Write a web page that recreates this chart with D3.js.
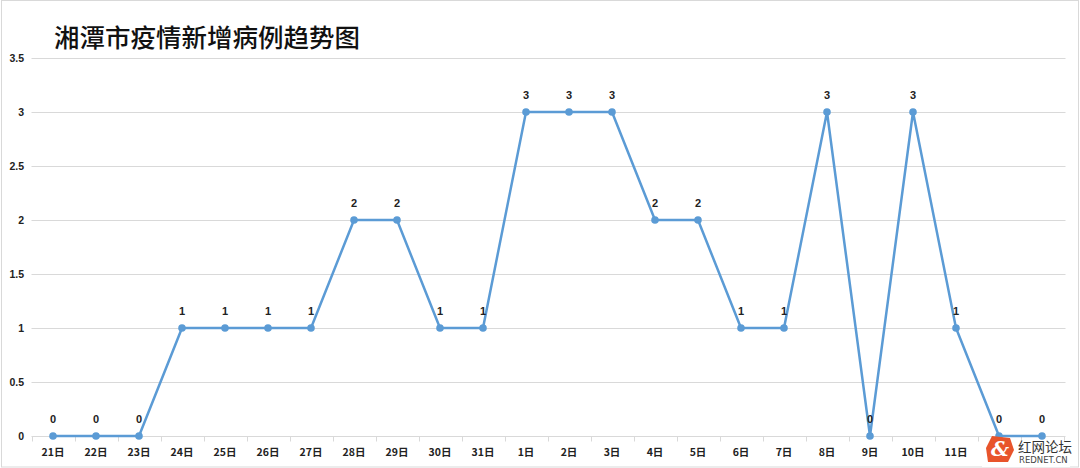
<!DOCTYPE html>
<html>
<head>
<meta charset="utf-8">
<script src="https://cdn.jsdelivr.net/npm/d3@7"></script>
<style>
  html, body { margin: 0; padding: 0; background: #fff; }
  svg { display: block; }
</style>
</head>
<body>
<div id="chart"></div>
<script>
const days = ["21日","22日","23日","24日","25日","26日","27日","28日","29日","30日","31日",
              "1日","2日","3日","4日","5日","6日","7日","8日","9日","10日","11日","12日","13日"];
const cases = [0,0,0,1,1,1,1,2,2,1,1,3,3,3,2,2,1,1,3,0,3,1,0,0];
const yTicks = [0, 0.5, 1, 1.5, 2, 2.5, 3, 3.5];

const width = 1080, height = 468;
const plotLeft = 31.5, plotRight = 1063.5, plotTop = 58, plotBottom = 436;

const svg = d3.select("#chart").append("svg")
    .attr("width", width)
    .attr("height", height);

// outer frame
svg.append("rect")
    .attr("x", 1.5).attr("y", 0.5)
    .attr("width", width - 3).attr("height", height - 1.5)
    .attr("fill", "#fff")
    .attr("stroke", "#d9d9d9");

svg.append("text")
    .attr("x", 54).attr("y", 47)
    .attr("font-family", "'Noto Sans CJK SC', sans-serif")
    .attr("font-size", 25.5)
    .attr("font-weight", 500)
    .attr("fill", "#111")
    .text("湘潭市疫情新增病例趋势图");

const x = d3.scaleBand().domain(days).range([plotLeft, plotRight]);
const y = d3.scaleLinear().domain([0, 3.5]).range([plotBottom, plotTop]);

// gridlines
svg.append("g")
    .selectAll("line")
    .data(yTicks.filter(d => d > 0))
    .enter()
    .append("line")
    .attr("x1", plotLeft).attr("x2", plotRight + 2)
    .attr("y1", d => Math.round(y(d)) + 0.5)
    .attr("y2", d => Math.round(y(d)) + 0.5)
    .attr("stroke", "#d9d9d9");

// y labels
svg.append("g")
    .selectAll("text")
    .data(yTicks)
    .enter()
    .append("text")
    .attr("x", 24)
    .attr("y", d => y(d) + 4)
    .attr("text-anchor", "end")
    .attr("font-family", "'Liberation Sans', 'Noto Sans CJK SC', sans-serif")
    .attr("font-weight", "bold")
    .attr("font-size", 10.5)
    .attr("fill", "#222")
    .text(d => d);

// x axis
const xAxis = svg.append("g")
    .attr("transform", `translate(0,${Math.round(plotBottom) + 0.5})`);
xAxis.append("line")
    .attr("x1", plotLeft).attr("x2", plotRight + 2)
    .attr("stroke", "#d9d9d9");
xAxis.selectAll(".tick")
    .data(days.concat([null]))
    .enter()
    .append("line")
    .attr("x1", (d, i) => Math.round(plotLeft + i * x.bandwidth()) + 0.5)
    .attr("x2", (d, i) => Math.round(plotLeft + i * x.bandwidth()) + 0.5)
    .attr("y1", 0).attr("y2", 5)
    .attr("stroke", "#d9d9d9");
xAxis.selectAll("text")
    .data(days)
    .enter()
    .append("text")
    .attr("x", d => x(d) + x.bandwidth() / 2)
    .attr("y", 19)
    .attr("text-anchor", "middle")
    .attr("font-family", "'Noto Sans CJK SC', sans-serif")
    .attr("font-weight", "bold")
    .attr("font-size", 10.5)
    .attr("fill", "#222")
    .text(d => d);

// series
const cx = (d, i) => x(days[i]) + x.bandwidth() / 2;
const line = d3.line()
    .x(cx)
    .y(d => y(d));

svg.append("path")
    .datum(cases)
    .attr("d", line)
    .attr("fill", "none")
    .attr("stroke", "#5b9bd5")
    .attr("stroke-width", 2.5)
    .attr("stroke-linejoin", "round");

svg.append("g")
    .selectAll("circle")
    .data(cases)
    .enter()
    .append("circle")
    .attr("cx", cx)
    .attr("cy", d => y(d))
    .attr("r", 3.8)
    .attr("fill", "#5b9bd5");

svg.append("g")
    .selectAll("text")
    .data(cases)
    .enter()
    .append("text")
    .attr("x", cx)
    .attr("y", d => y(d) - 13)
    .attr("text-anchor", "middle")
    .attr("font-family", "'Liberation Sans', sans-serif")
    .attr("font-weight", "bold")
    .attr("font-size", 11)
    .attr("fill", "#222")
    .text(d => d);

// watermark (covers the last two day labels, as in the source image)
const wm = svg.append("g").attr("transform", "translate(986,434)");
wm.append("rect")
    .attr("x", -4).attr("y", 8)
    .attr("width", 88).attr("height", 25)
    .attr("fill", "#fff");
wm.append("path")
    .attr("d", "M 6 2 L 24 4 L 28 16 L 22 28 L 2 28 L 0 14 Z")
    .attr("fill", "#e8542b");
wm.append("text")
    .attr("x", 14).attr("y", 22)
    .attr("text-anchor", "middle")
    .attr("font-family", "'DejaVu Serif', serif")
    .attr("font-style", "italic")
    .attr("font-weight", "bold")
    .attr("font-size", 20)
    .attr("fill", "#fff")
    .text("&");
wm.append("text")
    .attr("x", 32).attr("y", 18)
    .attr("font-family", "'Noto Sans CJK SC', sans-serif")
    .attr("font-size", 13.5)
    .attr("fill", "#333")
    .text("红网论坛");
wm.append("text")
    .attr("x", 33).attr("y", 29)
    .attr("font-family", "'DejaVu Sans', sans-serif")
    .attr("font-size", 8.5)
    .attr("fill", "#444")
    .text("REDNET.CN");
</script>
</body>
</html>
